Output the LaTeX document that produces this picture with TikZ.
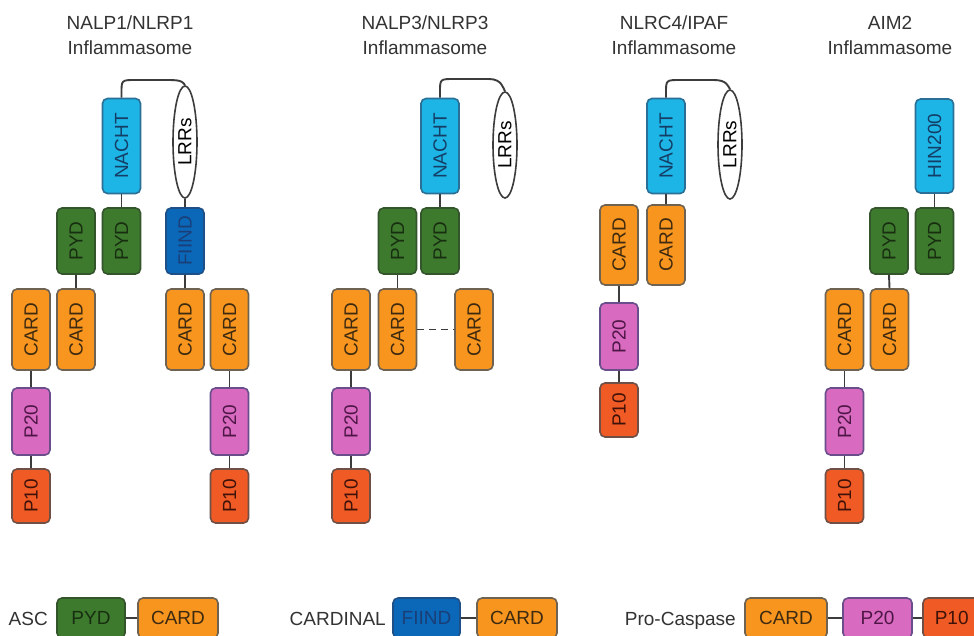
\documentclass[tikz,border=0pt]{standalone}
\usepackage{fontspec}
\setmainfont{Liberation Sans}
\usetikzlibrary{shapes.geometric,calc}
\definecolor{nachtc}{HTML}{1DB4E6}
\definecolor{nachtd}{HTML}{2A6F95}
\definecolor{nachtt}{HTML}{143E66}
\definecolor{pydc}{HTML}{3E7A2E}
\definecolor{pydd}{HTML}{34552C}
\definecolor{pydt}{HTML}{172E10}
\definecolor{fiindc}{HTML}{0B67B7}
\definecolor{fiindd}{HTML}{1E4F86}
\definecolor{fiindt}{HTML}{1A3F78}
\definecolor{cardc}{HTML}{F7951E}
\definecolor{cardd}{HTML}{6E6252}
\definecolor{cardt}{HTML}{3E2A10}
\definecolor{ptwc}{HTML}{D86ABF}
\definecolor{ptwd}{HTML}{6A4E8C}
\definecolor{ptwt}{HTML}{4E1646}
\definecolor{ptnc}{HTML}{F05A24}
\definecolor{ptnd}{HTML}{6E5046}
\definecolor{ptnt}{HTML}{3E1208}
\definecolor{linec}{HTML}{3C3C3C}
\definecolor{txtc}{HTML}{333333}
\newcommand{\vt}[1]{\rotatebox{90}{#1}}
\newcommand{\nlrloop}[3]{%
  \draw[conn] (#1.north) -- ($(#1.north |- #3)+(0,13)$)
    .. controls (#1.north |- #3) .. ($(#1.north |- #3)+(14,0)$)
    -- ($(#2.north |- #3)+(-16,0)$)
    .. controls ($(#2.north |- #3)+(-3,0)$) and ($(#2.north)+(-2,-3)$) .. (#2.north);}
\begin{document}
\begin{tikzpicture}[x=1pt,y=-1pt,
  dom/.style={draw, rounded corners=5pt, line width=1.6pt, minimum width=38pt,
    inner sep=0pt, font=\fontsize{19}{22}\selectfont},
  nacht/.style={dom, fill=nachtc, draw=nachtd, text=nachtt, minimum height=95pt},
  pyd/.style={dom, fill=pydc, draw=pydd, text=pydt, minimum height=66pt},
  fiind/.style={dom, fill=fiindc, draw=fiindd, text=fiindt, minimum height=66pt},
  cardbox/.style={dom, fill=cardc, draw=cardd, text=cardt, minimum height=81pt},
  ptwenty/.style={dom, fill=ptwc, draw=ptwd, text=ptwt, minimum height=67pt},
  pten/.style={dom, fill=ptnc, draw=ptnd, text=ptnt, minimum height=54pt},
  lrr/.style={ellipse, draw=linec, fill=white, line width=1.6pt, minimum width=24pt,
    minimum height=112pt, inner sep=0pt, text=black, font=\fontsize{19}{22}\selectfont},
  leg/.style={minimum height=40pt},
  conn/.style={draw=linec, line width=1.9pt},
  title/.style={text=txtc, inner sep=0pt, anchor=base, font=\fontsize{19}{22}\selectfont},
  lab/.style={text=txtc, inner sep=0pt, anchor=base east, font=\fontsize{19}{22}\selectfont}]
\useasboundingbox (0,0) rectangle (974,635);
\clip (0,0) rectangle (974,635);
\fill[white] (0,0) rectangle (974,635);
\coordinate (top1) at (0,80);
\coordinate (top3) at (0,79);
\coordinate (top4) at (0,80);

% ---------- titles ----------
\node[title] (t1a) at (130,29) {NALP1/NLRP1};
\node[title] (t1b) at (130,54) {Inflammasome};
\node[title] (t3a) at (425,29) {NALP3/NLRP3};
\node[title] (t3b) at (425,54) {Inflammasome};
\node[title] (t4a) at (674,29) {NLRC4/IPAF};
\node[title] (t4b) at (674,54) {Inflammasome};
\node[title] (t5a) at (890,29) {AIM2};
\node[title] (t5b) at (890,54) {Inflammasome};

% ---------- NALP1 ----------
\node[nacht] (n1) at (121.5,146) {\vt{NACHT}};
\node[lrr] (l1) at (185,142) {\vt{LRRs}};
\node[pyd] (p1a) at (76,241) {\vt{PYD}};
\node[pyd] (p1b) at (121.5,241) {\vt{PYD}};
\node[fiind] (f1) at (185,241) {\vt{FIIND}};
\node[cardbox] (c1a) at (31,329.5) {\vt{CARD}};
\node[cardbox] (c1b) at (76,329.5) {\vt{CARD}};
\node[cardbox] (c1c) at (185,329.5) {\vt{CARD}};
\node[cardbox] (c1d) at (229.5,329.5) {\vt{CARD}};
\node[ptwenty] (q1a) at (31,421.5) {\vt{P20}};
\node[pten] (r1a) at (31,496) {\vt{P10}};
\node[ptwenty] (q1d) at (229.5,421.5) {\vt{P20}};
\node[pten] (r1d) at (229.5,496) {\vt{P10}};
\nlrloop{n1}{l1}{top1}
\draw[conn] (n1.south) -- (p1b.north);
\draw[conn] (l1.south) -- (f1.north);
\draw[conn] (f1.south) -- (c1c.north);
\draw[conn] (p1a.south) -- (c1b.north);
\draw[conn] (c1a.south) -- (q1a.north);
\draw[conn] (q1a.south) -- (r1a.north);
\draw[conn] (c1d.south) -- (q1d.north);
\draw[conn] (q1d.south) -- (r1d.north);

% ---------- NALP3 ----------
\node[nacht] (n3) at (440,146) {\vt{NACHT}};
\node[lrr, minimum height=106pt] (l3) at (505,145) {\vt{LRRs}};
\node[pyd] (p3a) at (397.5,241) {\vt{PYD}};
\node[pyd] (p3b) at (440,241) {\vt{PYD}};
\node[cardbox] (c3a) at (351,329.5) {\vt{CARD}};
\node[cardbox] (c3b) at (397.5,329.5) {\vt{CARD}};
\node[cardbox] (c3c) at (474,329.5) {\vt{CARD}};
\node[ptwenty] (q3a) at (351,421.5) {\vt{P20}};
\node[pten] (r3a) at (351,496) {\vt{P10}};
\nlrloop{n3}{l3}{top3}
\draw[conn] (n3.south) -- (p3b.north);
\draw[conn] (p3a.south) -- (c3b.north);
\draw[conn, dash pattern=on 7pt off 5pt] (c3b.east) -- (c3c.west);
\draw[conn] (c3a.south) -- (q3a.north);
\draw[conn] (q3a.south) -- (r3a.north);

% ---------- NLRC4 ----------
\node[nacht] (n4) at (666,146) {\vt{NACHT}};
\node[lrr, minimum height=109pt] (l4) at (730,144.5) {\vt{LRRs}};
\node[cardbox, minimum height=80pt] (c4a) at (619,245) {\vt{CARD}};
\node[cardbox, minimum height=80pt] (c4b) at (666,245) {\vt{CARD}};
\node[ptwenty] (q4) at (619,336.5) {\vt{P20}};
\node[pten] (r4) at (619,410) {\vt{P10}};
\nlrloop{n4}{l4}{top4}
\draw[conn] (n4.south) -- (c4b.north);
\draw[conn] (c4a.south) -- (q4.north);
\draw[conn] (q4.south) -- (r4.north);

% ---------- AIM2 ----------
\node[nacht, minimum height=94pt] (h5) at (934.5,146) {\vt{HIN200}};
\node[pyd] (p5a) at (889,241) {\vt{PYD}};
\node[pyd] (p5b) at (934.5,241) {\vt{PYD}};
\node[cardbox] (c5a) at (844.5,329.5) {\vt{CARD}};
\node[cardbox] (c5b) at (889.5,329.5) {\vt{CARD}};
\node[ptwenty] (q5) at (844.5,421.5) {\vt{P20}};
\node[pten] (r5) at (844.5,496) {\vt{P10}};
\draw[conn] (h5.south) -- (p5b.north);
\draw[conn] (p5a.south) -- (c5b.north);
\draw[conn] (c5a.south) -- (q5.north);
\draw[conn] (q5.south) -- (r5.north);

% ---------- legend ----------
\node[lab] (asc) at (48,625) {ASC};
\node[pyd, leg, minimum width=68pt] (lpyd) at (91,618) {PYD};
\node[cardbox, leg, minimum width=80pt] (lcard1) at (178,618) {CARD};
\draw[conn] (lpyd.east) -- (lcard1.west);
\node[lab] (cardinal) at (386,625) {CARDINAL};
\node[fiind, leg, minimum width=67pt] (lfiind) at (426.5,618) {FIIND};
\node[cardbox, leg, minimum width=80pt] (lcard2) at (517,618) {CARD};
\draw[conn] (lfiind.east) -- (lcard2.west);
\node[lab] (procasp) at (736,625) {Pro-Caspase};
\node[cardbox, leg, minimum width=82pt] (lcard3) at (786,618) {CARD};
\node[ptwenty, leg, minimum width=69pt] (lp20) at (877.5,618) {P20};
\node[pten, leg, minimum width=68pt] (lp10) at (957,618) {P10\phantom{0}};
\draw[conn] (lcard3.east) -- (lp20.west);
\draw[conn] (lp20.east) -- (lp10.west);
\end{tikzpicture}
\end{document}
